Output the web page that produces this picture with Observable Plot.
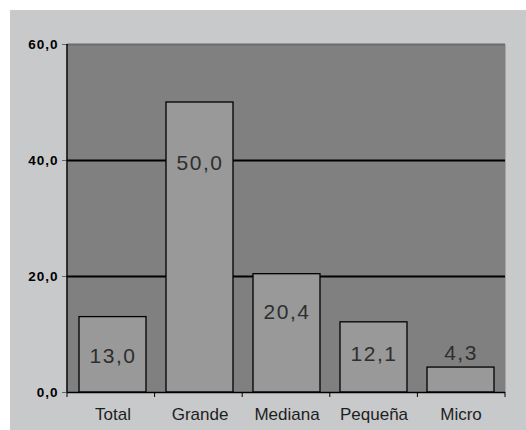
<!DOCTYPE html>
<html>
<head>
<meta charset="utf-8">
<script src="https://cdn.jsdelivr.net/npm/d3@7"></script>
<script src="https://cdn.jsdelivr.net/npm/@observablehq/plot@0.6"></script>
<style>
  html, body { margin: 0; padding: 0; background: #ffffff; }
  #wrap { padding: 10px 0 0 10px; width: 516px; height: 420px; }
  #chart svg { display: block; }
  g[aria-label="y-axis tick label"] text { letter-spacing: 1px; font-size: 13.5px !important; font-weight: bold; }
  g[aria-label="text"] text { letter-spacing: 1.5px; }
</style>
</head>
<body>
<div id="wrap"><div id="chart"></div></div>
<script>
const categories = ["Total", "Grande", "Mediana", "Pequeña", "Micro"];
const values = [13.0, 50.0, 20.4, 12.1, 4.3];
const labelY = [6.3, 39.6, 13.8, 6.6, 6.7]; // label centres (data units)
const yTicks = [0, 20, 40, 60];
const gridValues = [20, 40];

const fmt = v => v.toFixed(1).replace(".", ",");
const data = categories.map((c, i) => ({cat: c, value: values[i], ly: labelY[i], label: fmt(values[i])}));

const W = 516, H = 420;
const ML = 57, MR = 21, MT = 34, MB = 38;

const bottomTicks = (index, scales, vals, dims) => {
  const g = d3.create("svg:g");
  const x0 = dims.marginLeft, x1 = dims.width - dims.marginRight;
  const y0 = dims.height - dims.marginBottom, yt = dims.marginTop;
  const n = categories.length;
  const step = (x1 - x0) / n;
  for (let i = 0; i <= n; i++) {
    const x = x0 + i * step;
    g.append("line").attr("x1", x).attr("x2", x).attr("y1", y0).attr("y2", y0 + 5)
      .attr("stroke", "#000").attr("stroke-width", 1);
  }
  g.append("line").attr("x1", x0).attr("x2", x0).attr("y1", yt).attr("y2", y0)
    .attr("stroke", "#000").attr("stroke-width", 1.5);
  return g.node();
};

const chart = Plot.plot({
  width: W,
  height: H,
  marginLeft: ML,
  marginRight: MR,
  marginTop: MT,
  marginBottom: MB,
  style: {background: "#c8c9cb", fontFamily: "'Liberation Sans', Arial, sans-serif", overflow: "visible"},
  x: {domain: categories, paddingInner: 0.23, paddingOuter: 0.115, label: null},
  y: {domain: [0, 60], label: null},
  marks: [
    Plot.frame({fill: "#808080", stroke: null}),
    Plot.ruleY(gridValues, {stroke: "#000", strokeWidth: 2}),
    Plot.ruleY([60], {stroke: "#6c6c6c", strokeWidth: 2}),
    Plot.barY(data, {x: "cat", y: "value", fill: "#999999", stroke: "#000", strokeWidth: 1.3}),
    Plot.ruleY([0], {stroke: "#000", strokeWidth: 1.5}),
    Plot.text(data, {x: "cat", y: "ly", text: "label", fill: "#2e2e2e", fontSize: 21,
      fontFamily: "'Liberation Sans', Arial, sans-serif"}),
    Plot.axisY(yTicks, {tickFormat: fmt, tickSize: 5, tickPadding: 4, stroke: "#666",
      fill: "#000", fontSize: 14, fontWeight: "bold", label: null}),
    Plot.axisX({tickSize: 0, tickPadding: 15, fontSize: 17, fill: "#1e1e1e", label: null}),
    bottomTicks
  ]
});
document.getElementById("chart").appendChild(chart);
</script>
</body>
</html>
